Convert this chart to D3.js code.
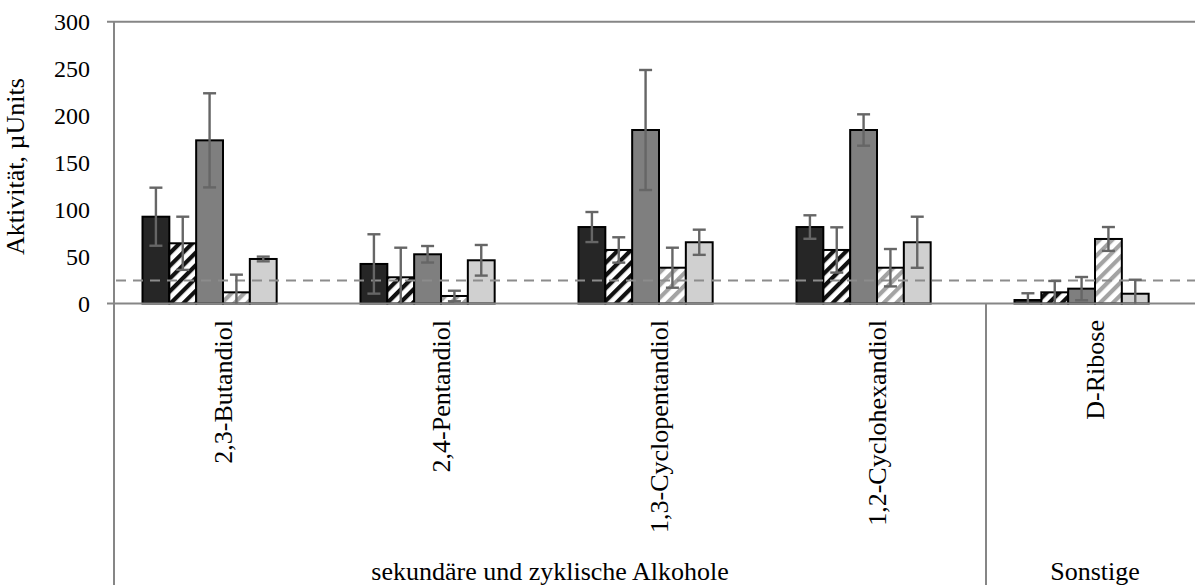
<!DOCTYPE html>
<html>
<head>
<meta charset="utf-8">
<script src="https://cdn.jsdelivr.net/npm/d3@7"></script>
<style>
  html, body { margin: 0; padding: 0; background: #fff; }
  svg { display: block; }
  text { font-family: "Liberation Serif", "DejaVu Serif", serif; fill: #000; }
</style>
</head>
<body>
<div id="chart"></div>
<script>
// ---------- Data ----------
const categories = ['2,3-Butandiol', '2,4-Pentandiol', '1,3-Cyclopentandiol', '1,2-Cyclohexandiol', 'D-Ribose']
const groupLabels = ['sekundäre und zyklische Alkohole', 'Sonstige']
const groupSpans = [4, 1]
// six series slots, the sixth one is empty in the original
const seriesKeys = ['s1', 's2', 's3', 's4', 's5', 's6']

const s1Values = [92.4, 42.1, 81.4, 81.4, 3.7]
const s2Values = [64.1, 27.9, 57.0, 57.0, 11.9]
const s3Values = [173.7, 52.4, 184.7, 184.7, 15.8]
const s4Values = [11.9, 8.0, 38.1, 38.1, 68.7]
const s5Values = [47.4, 46.0, 65.2, 65.2, 10.4]

const s1Errors = [30.9, 31.6, 16.0, 12.5, 7.2]
const s2Errors = [28.3, 31.5, 13.5, 24.1, 12.1]
const s3Errors = [50.1, 8.8, 63.9, 16.7, 12.4]
const s4Errors = [18.8, 5.6, 21.3, 19.9, 12.7]
const s5Errors = [2.5, 16.3, 13.4, 27.2, 14.9]

const thresholdValue = 24.5
const yTicks = [0, 50, 100, 150, 200, 250, 300]

const series = [
  { key: 's1', values: s1Values, errors: s1Errors, fill: '#262626' },
  { key: 's2', values: s2Values, errors: s2Errors, fill: 'url(#hatchBlack)' },
  { key: 's3', values: s3Values, errors: s3Errors, fill: '#7f7f7f' },
  { key: 's4', values: s4Values, errors: s4Errors, fill: 'url(#hatchGray)' },
  { key: 's5', values: s5Values, errors: s5Errors, fill: '#d0d0d0' }
]

// ---------- Dimensions ----------
const width = 1195
const height = 585
const axisX = 114
const bandW = 218
const yTop = 21.7
const yZero = 303.5
const axisColor = '#868686'

const svg = d3.select('#chart')
  .append('svg')
  .attr('width', width)
  .attr('height', height)

const defs = svg.append('defs')

function hatch (id, color) {
  const p = defs.append('pattern')
    .attr('id', id)
    .attr('patternUnits', 'userSpaceOnUse')
    .attr('width', 9)
    .attr('height', 9)
    .attr('patternTransform', 'rotate(45)')
  p.append('rect').attr('width', 9).attr('height', 9).attr('fill', '#fff')
  p.append('rect').attr('width', 4.2).attr('height', 9).attr('fill', color)
}
hatch('hatchBlack', '#111')
hatch('hatchGray', '#a3a3a3')

// ---------- Scales ----------
const x0 = d3.scaleBand()
  .domain(categories)
  .range([axisX, axisX + bandW * categories.length])
  .paddingInner(0)
  .paddingOuter(0)

const x1 = d3.scaleBand()
  .domain(seriesKeys)
  .range([28.5, bandW - 28.5])

const y = d3.scaleLinear()
  .domain([0, 300])
  .range([yZero, yTop])

// ---------- Axes ----------
svg.append('g')
  .attr('transform', `translate(${axisX},0)`)
  .call(d3.axisLeft(y).tickValues(yTicks).tickSize(0).tickPadding(24))
  .call(ax => ax.select('.domain').remove())
  .call(ax => ax.selectAll('text')
    .attr('font-size', 24)
    .attr('font-family', '"Liberation Serif", serif')
    .attr('fill', '#000'))

// frame lines
svg.append('line')
  .attr('x1', 107).attr('x2', width)
  .attr('y1', y(300)).attr('y2', y(300))
  .attr('stroke', axisColor).attr('stroke-width', 2)

svg.append('line')
  .attr('x1', axisX).attr('x2', axisX)
  .attr('y1', y(300)).attr('y2', height)
  .attr('stroke', axisColor).attr('stroke-width', 2)

// group dividers in the category axis
let acc = 0
groupSpans.forEach((span, i) => {
  acc += span
  if (i < groupSpans.length - 1) {
    const gx = x0(categories[acc - 1]) + x0.bandwidth()
    svg.append('line')
      .attr('x1', gx).attr('x2', gx)
      .attr('y1', yZero).attr('y2', height)
      .attr('stroke', axisColor).attr('stroke-width', 2)
  }
})

// y-axis title
svg.append('text')
  .attr('transform', `translate(24,${(y(300) + yZero) / 2 + 4}) rotate(-90)`)
  .attr('text-anchor', 'middle')
  .attr('font-size', 26)
  .text('Aktivität, \u00b5Units')

// ---------- Bars ----------
const barGroups = svg.selectAll('.bar-group')
  .data(series)
  .join('g')
  .attr('class', 'bar-group')

barGroups.selectAll('rect')
  .data(s => s.values.map((v, i) => ({ key: s.key, cat: categories[i], value: v, fill: s.fill })))
  .join('rect')
  .attr('x', d => x0(d.cat) + x1(d.key))
  .attr('y', d => y(d.value))
  .attr('width', x1.bandwidth())
  .attr('height', d => yZero - y(d.value))
  .attr('fill', d => d.fill)
  .attr('stroke', '#000')
  .attr('stroke-width', 2)

// x-axis baseline (drawn over the bar bottoms)
svg.append('line')
  .attr('x1', 107).attr('x2', width)
  .attr('y1', yZero).attr('y2', yZero)
  .attr('stroke', axisColor).attr('stroke-width', 2)

// ---------- Threshold (dashed) ----------
svg.append('line')
  .attr('x1', axisX + 2).attr('x2', width)
  .attr('y1', y(thresholdValue)).attr('y2', y(thresholdValue))
  .attr('stroke', '#8c8c8c')
  .attr('stroke-width', 2.2)
  .attr('stroke-dasharray', '10,7')

// ---------- Error bars ----------
const errData = series.flatMap(s => s.values.map((v, i) => ({
  key: s.key,
  cat: categories[i],
  lo: Math.max(0, v - s.errors[i]),
  hi: v + s.errors[i]
})))

const errG = svg.append('g').attr('class', 'errors')
  .attr('stroke', '#666')
  .attr('stroke-width', 2.4)

errData.forEach(d => {
  const cx = x0(d.cat) + x1(d.key) + x1.bandwidth() / 2
  errG.append('line').attr('x1', cx).attr('x2', cx).attr('y1', y(d.hi)).attr('y2', y(d.lo))
  errG.append('line').attr('x1', cx - 6.5).attr('x2', cx + 6.5).attr('y1', y(d.hi)).attr('y2', y(d.hi))
  if (d.lo > 0) {
    errG.append('line').attr('x1', cx - 6.5).attr('x2', cx + 6.5).attr('y1', y(d.lo)).attr('y2', y(d.lo))
  }
})

// ---------- Category labels ----------
svg.selectAll('.cat-label')
  .data(categories)
  .join('text')
  .attr('class', 'cat-label')
  .attr('transform', d => `translate(${x0(d) + x0.bandwidth() / 2},320) rotate(-90)`)
  .attr('text-anchor', 'end')
  .attr('dy', '0.35em')
  .attr('font-size', 26)
  .text(d => d)

// ---------- Group labels ----------
let start = 0
groupLabels.forEach((label, i) => {
  const first = categories[start]
  const last = categories[start + groupSpans[i] - 1]
  const cx = (x0(first) + x0(last) + x0.bandwidth()) / 2
  svg.append('text')
    .attr('x', cx)
    .attr('y', 580)
    .attr('text-anchor', 'middle')
    .attr('font-size', 26)
    .text(label)
  start += groupSpans[i]
})
</script>
</body>
</html>
